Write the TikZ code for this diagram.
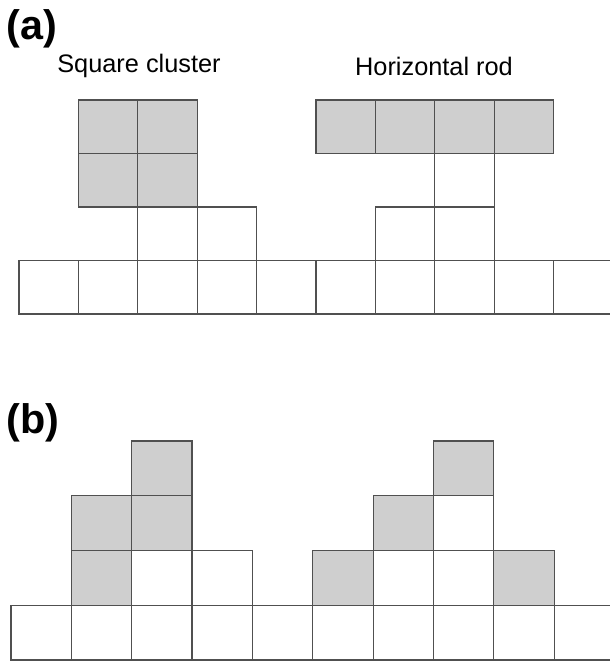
\documentclass[tikz,border=0pt]{standalone}
\usepackage{fontspec}
\setmainfont{Liberation Sans}
\definecolor{linec}{HTML}{505050}
\definecolor{cellg}{HTML}{CFCFCF}
\begin{document}
\begin{tikzpicture}[x=0.75pt,y=-0.75pt,
  cell/.style={draw=linec,line width=0.9pt,fill=white},
  gcell/.style={cell,fill=cellg},
  lab/.style={anchor=base west,inner sep=0pt,font=\fontsize{31pt}{34pt}\selectfont\bfseries},
  title/.style={anchor=base,inner sep=0pt,font=\fontsize{19pt}{22pt}\selectfont}]
\useasboundingbox (0,0) rectangle (610,661);
% ---------- (a)
\node[lab] (la) at (6,39) {(a)};
\node[title] (tsq) at (139,72) {Square cluster};
\node[title] (trod) at (434,75) {Horizontal rod};
\foreach \c in {0,...,8}
  \draw[cell] ({19+59.4*\c},260.5) rectangle ++(59.4,53.5);
\draw[cell,fill=none] (610,260.5) -- (553.6,260.5) -- (553.6,314) -- (610,314);
\foreach \c/\r/\s in {2/2/cell,3/2/cell,1/0/gcell,2/0/gcell,1/1/gcell,2/1/gcell,
                      7/1/cell,6/2/cell,7/2/cell,5/0/gcell,6/0/gcell,7/0/gcell,8/0/gcell}
  \draw[\s] ({19+59.4*\c},{100+53.5*\r}) rectangle ++(59.4,53.5);
% ---------- (b)
\node[lab] (lb) at (6,433) {(b)};
\foreach \c in {0,...,8}
  \draw[cell] ({11+60.35*\c},605.5) rectangle ++(60.35,54.5);
\draw[cell,fill=none] (610,605.5) -- (554.15,605.5) -- (554.15,660) -- (610,660);
\foreach \c/\r/\s in {2/2/cell,3/2/cell,2/0/gcell,1/1/gcell,2/1/gcell,1/2/gcell,
                      7/1/cell,6/2/cell,7/2/cell,7/0/gcell,6/1/gcell,5/2/gcell,8/2/gcell}
  \draw[\s] ({11+60.35*\c},{441+54.8*\r}) rectangle ++(60.35,54.8);
\end{tikzpicture}
\end{document}
